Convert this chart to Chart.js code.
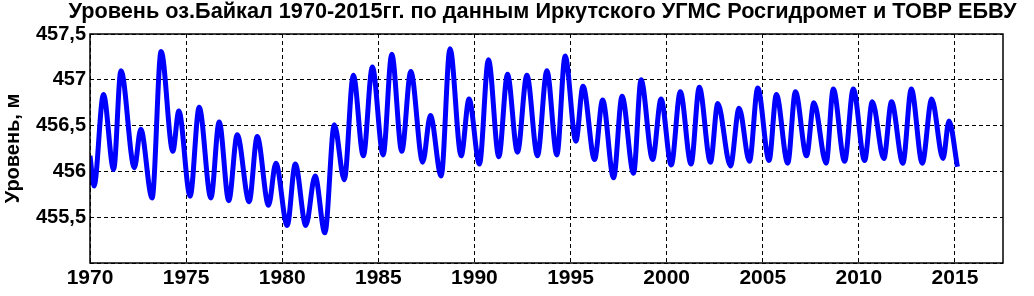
<!DOCTYPE html>
<html>
<head>
<meta charset="utf-8">
<script src="https://cdn.jsdelivr.net/npm/chart.js@4"></script>
<style>
  html, body { margin: 0; padding: 0; background: #fff; }
</style>
</head>
<body>
<canvas id="baikalChart" width="1034" height="296"></canvas>
<script>
// Уровень оз.Байкал: экстремумы по годам (десятичный год, м)
const timeYears = [
  1970.00, 1970.21, 1970.70, 1971.23, 1971.61, 1972.31, 1972.64, 1973.23, 1973.70, 1974.31,
  1974.62, 1975.21, 1975.68, 1976.29, 1976.72, 1977.22, 1977.66, 1978.28, 1978.70, 1979.29,
  1979.67, 1980.26, 1980.68, 1981.23, 1981.71, 1982.22, 1982.71, 1983.23, 1983.70, 1984.22,
  1984.69, 1985.25, 1985.70, 1986.22, 1986.69, 1987.31, 1987.71, 1988.27, 1988.73, 1989.31,
  1989.72, 1990.26, 1990.73, 1991.27, 1991.72, 1992.24, 1992.73, 1993.28, 1993.77, 1994.29,
  1994.72, 1995.28, 1995.65, 1996.25, 1996.67, 1997.24, 1997.68, 1998.28, 1998.67, 1999.27,
  1999.71, 2000.24, 2000.71, 2001.27, 2001.70, 2002.28, 2002.66, 2003.32, 2003.77, 2004.31,
  2004.74, 2005.33, 2005.71, 2006.30, 2006.70, 2007.28, 2007.66, 2008.30, 2008.67, 2009.26,
  2009.71, 2010.30, 2010.70, 2011.30, 2011.70, 2012.29, 2012.73, 2013.30, 2013.79, 2014.38,
  2014.69, 2015.13
];
const levels = [
  456.17, 455.84, 456.84, 456.02, 457.10, 456.04, 456.46, 455.71, 457.31, 456.22,
  456.66, 455.73, 456.70, 455.71, 456.54, 455.68, 456.40, 455.67, 456.38, 455.63,
  456.09, 455.41, 456.08, 455.41, 455.95, 455.33, 456.51, 455.91, 457.05, 456.17,
  457.14, 456.18, 457.28, 456.22, 457.09, 456.10, 456.61, 455.95, 457.34, 456.17,
  456.79, 456.08, 457.22, 456.16, 457.06, 456.21, 457.05, 456.17, 457.10, 456.18,
  457.26, 456.33, 456.93, 456.13, 456.78, 455.93, 456.82, 455.98, 457.00, 456.13,
  456.79, 456.07, 456.87, 456.08, 456.92, 456.10, 456.74, 456.06, 456.69, 456.11,
  456.91, 456.12, 456.84, 456.09, 456.87, 456.17, 456.75, 456.09, 456.90, 456.11,
  456.90, 456.12, 456.76, 456.14, 456.76, 456.09, 456.90, 456.09, 456.79, 456.14,
  456.55, 456.05
];
const xTickYears = [1970, 1975, 1980, 1985, 1990, 1995, 2000, 2005, 2010, 2015];
const yTickLabels = ['', '455,5', '456', '456,5', '457', '457,5'];
const chartTitle = 'Уровень оз.Байкал 1970-2015гг. по данным Иркутского УГМС Росгидромет и ТОВР ЕБВУ';

const fontFamily = '"Liberation Sans", Arial, sans-serif';

// рамка вокруг области графика и заголовок (как в MATLAB)
const boxPlugin = {
  id: 'box',
  afterDraw(chart) {
    const { ctx, chartArea: a } = chart;
    ctx.save();
    ctx.strokeStyle = '#000';
    ctx.lineWidth = 1.5;
    ctx.setLineDash([]);
    ctx.strokeRect(a.left, a.top, a.right - a.left, a.bottom - a.top);

    ctx.fillStyle = '#000';
    ctx.font = 'bold 21.7px ' + fontFamily;
    ctx.textAlign = 'center';
    ctx.textBaseline = 'middle';
    ctx.fillText(chartTitle, (a.left + a.right) / 2 - 4, 12);
    ctx.restore();
  }
};

const ctx = document.getElementById('baikalChart').getContext('2d');
new Chart(ctx, {
  type: 'line',
  data: {
    datasets: [{
      data: timeYears.map((t, i) => ({ x: t, y: levels[i] })),
      borderColor: '#0000ff',
      borderWidth: 5,
      pointRadius: 0,
      cubicInterpolationMode: 'monotone',
      fill: false
    }]
  },
  options: {
    responsive: false,
    animation: false,
    layout: { padding: { left: 0, right: 31, top: 34, bottom: 0 } },
    scales: {
      x: {
        type: 'linear',
        min: 1970,
        max: 2017.5,
        afterFit: s => { s.height = 33; },
        afterBuildTicks: s => { s.ticks = xTickYears.map(v => ({ value: v })); },
        ticks: {
          includeBounds: false,
          padding: 3,
          maxRotation: 0,
          color: '#000',
          font: { family: fontFamily, size: 21, weight: 'bold' },
          callback: v => String(v)
        },
        grid: { color: '#000', lineWidth: 1, drawTicks: false },
        border: { display: false, dash: [4, 3] }
      },
      y: {
        min: 455,
        max: 457.5,
        afterFit: s => { s.width = 90; },
        ticks: {
          stepSize: 0.5,
          padding: 4,
          color: '#000',
          font: { family: fontFamily, size: 20, weight: 'bold' },
          callback: (v, i) => yTickLabels[i]
        },
        grid: { color: '#000', lineWidth: 1, drawTicks: false },
        border: { display: false, dash: [4, 3] },
        title: {
          display: true,
          text: 'Уровень, м',
          color: '#000',
          padding: { top: 1, bottom: 0 },
          font: { family: fontFamily, size: 20, weight: 'bold' }
        }
      }
    },
    plugins: {
      legend: { display: false },
      tooltip: { enabled: false },
      title: { display: false }
    }
  },
  plugins: [boxPlugin]
});
</script>
</body>
</html>
